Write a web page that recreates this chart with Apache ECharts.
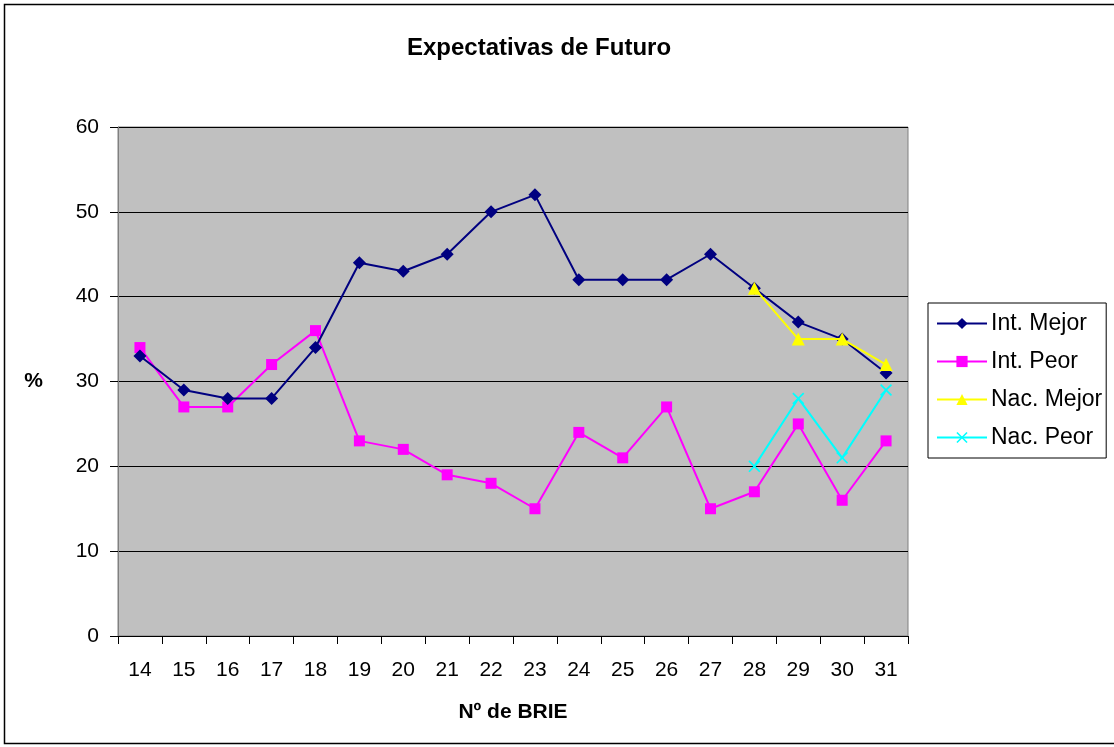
<!DOCTYPE html>
<html>
<head>
<meta charset="utf-8">
<script src="https://cdn.jsdelivr.net/npm/echarts@6/dist/echarts.min.js"></script>
<style>
  html, body { margin: 0; padding: 0; background: #fff; }
  #chart { width: 1114px; height: 747px; }
</style>
</head>
<body>
<div id="chart"></div>
<script>
const categories = ['14', '15', '16', '17', '18', '19', '20', '21', '22', '23', '24', '25', '26', '27', '28', '29', '30', '31']
const intMejor = [33, 29, 28, 28, 34, 44, 43, 45, 50, 52, 42, 42, 42, 45, 41, 37, 35, 31]
const intPeor = [34, 27, 27, 32, 36, 23, 22, 19, 18, 15, 24, 21, 27, 15, 17, 25, 16, 23]
const nacMejor = [null, null, null, null, null, null, null, null, null, null, null, null, null, null, 41, 35, 35, 32]
const nacPeor = [null, null, null, null, null, null, null, null, null, null, null, null, null, null, 20, 28, 21, 29]

const font = 'Liberation Sans, Arial, sans-serif'
const crossSymbol = 'path://M0,1L1,0L5,4L9,0L10,1L6,5L10,9L9,10L5,6L1,10L0,9L4,5Z'

const chart = echarts.init(document.getElementById('chart'))
chart.setOption({
  animation: false,
  backgroundColor: '#fff',
  textStyle: { fontFamily: font },
  graphic: [{
    type: 'rect',
    shape: { x: 4.5, y: 4.5, width: 1120, height: 739 },
    style: { fill: 'none', stroke: '#000', lineWidth: 1.5 }
  }],
  title: {
    text: 'Expectativas de Futuro',
    left: 534, top: 31, textAlign: 'center',
    textStyle: { fontFamily: font, fontSize: 24, fontWeight: 'bold', color: '#000' }
  },
  legend: {
    orient: 'vertical',
    left: 928, top: 303,
    width: 184,
    padding: [9, 4, 9, 8],
    itemGap: 15,
    itemWidth: 50, itemHeight: 14,
    borderColor: '#000', borderWidth: 1,
    textStyle: { fontFamily: font, fontSize: 23, color: '#000', lineHeight: 23, padding: [0, 0, 0, -1] },
    data: ['Int. Mejor', 'Int. Peor', 'Nac. Mejor', 'Nac. Peor']
  },
  grid: {
    left: 118, right: 206, top: 127, bottom: 111,
    show: true, backgroundColor: '#c0c0c0', borderColor: '#808080', borderWidth: 1
  },
  xAxis: {
    type: 'category',
    data: categories,
    boundaryGap: true,
    name: 'Nº de BRIE',
    nameLocation: 'middle',
    nameGap: 66,
    nameTextStyle: { fontFamily: font, fontSize: 21, fontWeight: 'bold', color: '#000' },
    axisLine: { lineStyle: { color: '#000' } },
    axisTick: { show: true, length: 8, lineStyle: { color: '#000' } },
    axisLabel: { fontFamily: font, fontSize: 21, color: '#000', margin: 24 }
  },
  yAxis: {
    type: 'value',
    min: 0, max: 60, interval: 10,
    name: '%',
    nameLocation: 'middle',
    nameRotate: 0,
    nameGap: 75,
    nameTextStyle: { fontFamily: font, fontSize: 21, fontWeight: 'bold', color: '#000' },
    axisLine: { show: true, lineStyle: { color: '#808080' } },
    axisTick: { show: true, length: 8, lineStyle: { color: '#000' } },
    axisLabel: { fontFamily: font, fontSize: 21, color: '#000', margin: 19 },
    splitLine: { lineStyle: { color: '#000', width: 1 } }
  },
  series: [
    {
      name: 'Int. Mejor', type: 'line', data: intMejor,
      symbol: 'diamond', symbolSize: 13,
      itemStyle: { color: '#000080' },
      lineStyle: { color: '#000080', width: 2 },
      z: 4
    },
    {
      name: 'Int. Peor', type: 'line', data: intPeor,
      symbol: 'rect', symbolSize: 11,
      itemStyle: { color: '#ff00ff' },
      lineStyle: { color: '#ff00ff', width: 2 },
      z: 3
    },
    {
      name: 'Nac. Mejor', type: 'line', data: nacMejor,
      symbol: 'triangle', symbolSize: 13,
      itemStyle: { color: '#ffff00' },
      lineStyle: { color: '#ffff00', width: 2 },
      z: 5
    },
    {
      name: 'Nac. Peor', type: 'line', data: nacPeor,
      symbol: crossSymbol, symbolSize: 12,
      itemStyle: { color: '#00ffff' },
      lineStyle: { color: '#00ffff', width: 2 },
      z: 5
    }
  ]
})
</script>
</body>
</html>
